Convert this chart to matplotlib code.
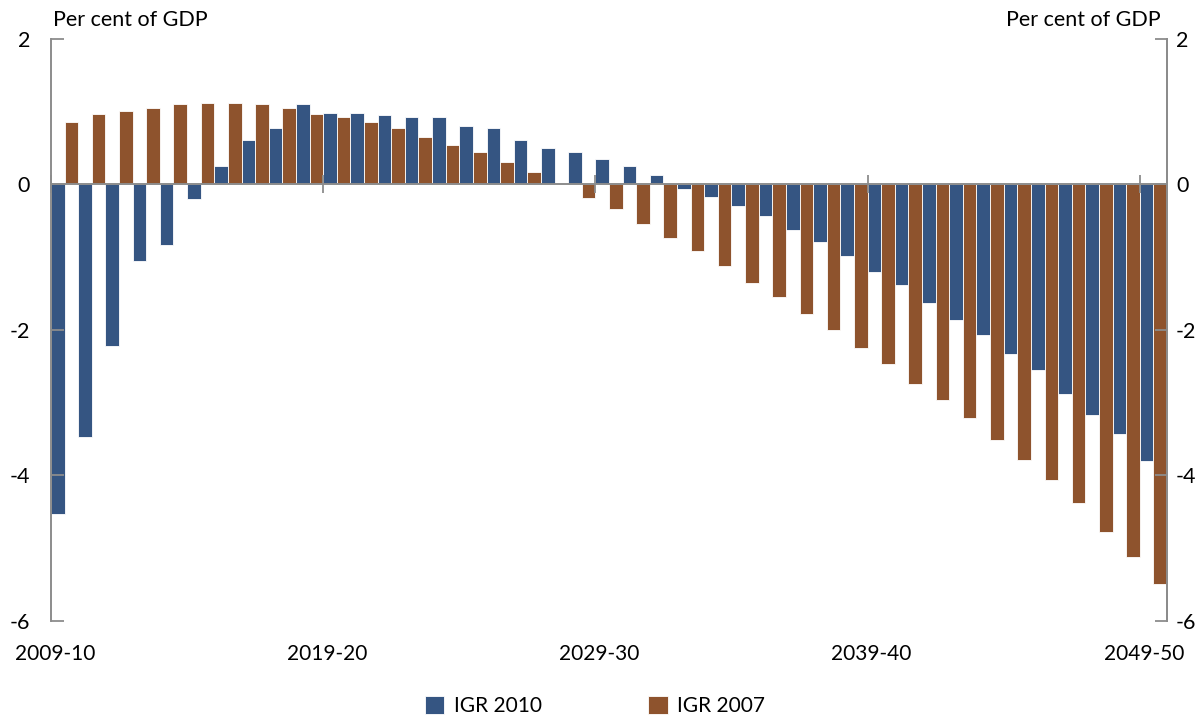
import matplotlib
matplotlib.use("Agg")
import matplotlib.pyplot as plt
import numpy as np

plt.rcParams['font.family'] = ['Lato', 'DejaVu Sans']
plt.rcParams['axes.unicode_minus'] = False

years = [f"{y}-{(y + 1) % 100:02d}" for y in range(2009, 2050)]

igr_2010 = [-4.53, -3.48, -2.22, -1.05, -0.83, -0.20, 0.25, 0.61, 0.77, 1.10,
            0.98, 0.98, 0.95, 0.92, 0.92, 0.80, 0.77, 0.61, 0.50, 0.44,
            0.35, 0.25, 0.13, -0.07, -0.18, -0.30, -0.44, -0.63, -0.79, -0.99,
            -1.20, -1.39, -1.63, -1.86, -2.07, -2.33, -2.56, -2.88, -3.17, -3.44,
            -3.81]
igr_2007 = [0.86, 0.97, 1.01, 1.05, 1.10, 1.12, 1.12, 1.10, 1.05, 0.97,
            0.92, 0.86, 0.77, 0.65, 0.54, 0.44, 0.31, 0.17, 0.0, -0.19,
            -0.34, -0.55, -0.74, -0.92, -1.12, -1.36, -1.55, -1.78, -2.00, -2.25,
            -2.47, -2.74, -2.96, -3.22, -3.51, -3.79, -4.07, -4.38, -4.78, -5.12,
            -5.49]
label_years = ["2009-10", "2019-20", "2029-30", "2039-40", "2049-50"]
yticks = [2, 0, -2, -4, -6]

BLUE = '#355582'
BROWN = '#8E532D'
GREY = '#8c8c8c'

fig = plt.figure(figsize=(12.01, 7.18), dpi=100)
ax = fig.add_axes([51/1201, 1 - 620.7/718, (1167 - 51)/1201, (620.7 - 38.7)/718])

x = np.arange(len(years))
ax.bar(x + 0.25, igr_2010, width=0.5, color=BLUE, edgecolor='white', linewidth=0.6, label='IGR 2010')
ax.bar(x + 0.75, igr_2007, width=0.5, color=BROWN, edgecolor='white', linewidth=0.6, label='IGR 2007')

ax.set_xlim(0, len(years))
ax.set_ylim(-6, 2)

ax.spines['top'].set_visible(False)
ax.spines['bottom'].set_position(('data', 0))
for s in ['bottom', 'left', 'right']:
    ax.spines[s].set_color(GREY)
    ax.spines[s].set_linewidth(1.4)

tick_pos = [years.index(y) for y in label_years]
ax.set_xticks(tick_pos)
ax.tick_params(axis='x', direction='inout', length=13, width=1.3, color=GREY, labelbottom=False)

ax.set_yticks(yticks)
ax.tick_params(axis='y', direction='in', length=9, width=1.3, color=GREY,
               labelsize=15.5, pad=15)

ax2 = ax.twinx()
ax2.set_ylim(ax.get_ylim())
ax2.set_yticks(yticks)
ax2.tick_params(axis='y', direction='in', length=9, width=1.3, color=GREY,
                labelsize=15.5, pad=6.5)
for s in ['top', 'bottom', 'left']:
    ax2.spines[s].set_visible(False)
ax2.spines['right'].set_color(GREY)
ax2.spines['right'].set_linewidth(1.4)

# year labels along the bottom edge
sec = ax.secondary_xaxis(0)
sec.set_xticks([p + 0.15 for p in tick_pos])
sec.set_xticklabels(label_years)
sec.tick_params(length=0, labelsize=15, pad=17)
sec.spines['bottom'].set_visible(False)

fig.text(53/1201, 1 - 20/718, 'Per cent of GDP', fontsize=15.5, ha='left', va='center')
fig.text(1161/1201, 1 - 20/718, 'Per cent of GDP', fontsize=15.5, ha='right', va='center')

fig.legend(loc='center', bbox_to_anchor=(0.4954, 0.0165), ncol=2, frameon=False,
           fontsize=15, handlelength=0.95, handleheight=0.95, handletextpad=0.45,
           columnspacing=5.1, borderpad=0)

fig.savefig('out.png', dpi=100)
